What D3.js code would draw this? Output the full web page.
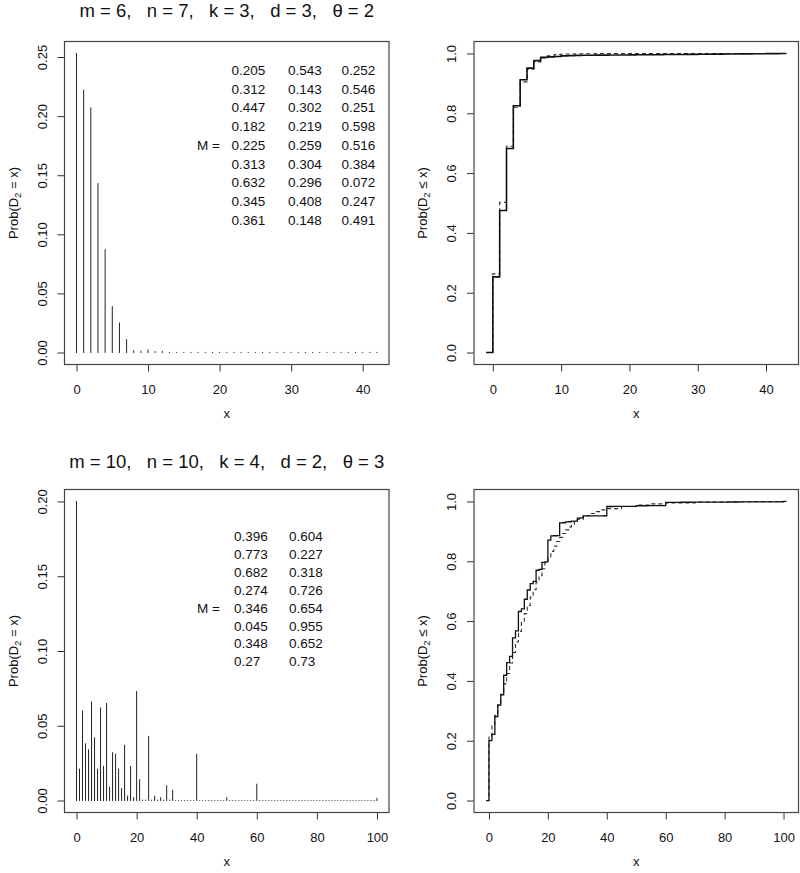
<!DOCTYPE html>
<html>
<head>
<meta charset="utf-8">
<script src="https://cdn.jsdelivr.net/npm/d3@7"></script>
<style>
  body { margin: 0; background: #fff; }
  text { font-family: "Liberation Sans", Arial, sans-serif; }
</style>
</head>
<body>
<svg id="chart" width="800" height="873"></svg>
<script>
// ---- data ----
var titleTop = "m = 6,   n = 7,   k = 3,   d = 3,   \u03b8 = 2";
var titleBottom = "m = 10,   n = 10,   k = 4,   d = 2,   \u03b8 = 3";

// Prob(D2 = x), x = 0..42
var topPmf = [0.253, 0.222, 0.207, 0.143, 0.087, 0.039, 0.025, 0.011, 0.0015, 0.0012,
  0.0022, 0.0008, 0.001, 0.0002, 0.0002, 0.0002, 0.0002, 0.0002, 0.0002, 0.0002,
  0.0002, 0.0002, 0.0002, 0.0002, 0.0002, 0.0002, 0.0002, 0.0002, 0.0002, 0.0002,
  0.0002, 0.0002, 0.0002, 0.0002, 0.0002, 0.0002, 0.0002, 0.0002, 0.0002, 0.0002,
  0.0002, 0.0002, 0.0002];

// dashed cdf (approximation), knots
var topDashX = [0, 1, 2, 3, 4, 5, 6, 7, 8, 9, 10, 12, 15];
var topDashY = [0.263, 0.502, 0.690, 0.820, 0.905, 0.947, 0.972, 0.985, 0.992, 0.996, 0.998, 0.999, 1.0];

// Prob(D2 = x), x = 0..100
var bottomPmf = [
  0.200, 0.021, 0.060, 0.038, 0.034, 0.066, 0.042, 0.021, 0.062, 0.023,
  0.065, 0.009, 0.032, 0.031, 0.021, 0.008, 0.037, 0.003, 0.023, 0.002,
  0.073, 0.014, 0.0003, 0.0003, 0.043, 0.0003, 0.003, 0.0003, 0.002, 0.0003,
  0.010, 0.0003, 0.007, 0.00005, 0.00005, 0.00005, 0.00005, 0.00005, 0.00005, 0.00005,
  0.031, 0.00005, 0.00005, 0.00005, 0.00005, 0.00005, 0.00005, 0.00005, 0.00005, 0.00005,
  0.002, 0.00005, 0.00005, 0.00005, 0.00005, 0.00005, 0.00005, 0.00005, 0.00005, 0.00005,
  0.011, 0.00005, 0.00005, 0.00005, 0.00005, 0.00005, 0.00005, 0.00005, 0.00005, 0.00005,
  0.00005, 0.00005, 0.00005, 0.00005, 0.00005, 0.00005, 0.00005, 0.00005, 0.00005, 0.00005,
  0.00005, 0.00005, 0.00005, 0.00005, 0.00005, 0.00005, 0.00005, 0.00005, 0.00005, 0.00005,
  0.00005, 0.00005, 0.00005, 0.00005, 0.00005, 0.00005, 0.00005, 0.00005, 0.00005, 0.00005,
  0.0015];

var bottomDashX = [0, 1, 2, 3, 4, 5, 6, 7, 8, 9, 10, 11, 12, 13, 14, 15, 16, 17, 18, 19,
  20, 21, 22, 23, 24, 25, 26, 27, 28, 29, 30, 32, 34, 36, 38, 40, 45, 50, 55, 60, 70, 80, 90];
var bottomDashY = [0.215, 0.25, 0.285, 0.32, 0.355, 0.39, 0.425, 0.46, 0.495, 0.53,
  0.565, 0.595, 0.625, 0.652, 0.68, 0.705, 0.73, 0.752, 0.775, 0.795,
  0.815, 0.833, 0.85, 0.866, 0.88, 0.893, 0.905, 0.915, 0.924, 0.932,
  0.94, 0.952, 0.96, 0.966, 0.972, 0.976, 0.983, 0.988, 0.992, 0.995, 0.998, 0.999, 1.0];

// matrices printed in the left panels
var topMatrix = [
  ["0.205", "0.543", "0.252"],
  ["0.312", "0.143", "0.546"],
  ["0.447", "0.302", "0.251"],
  ["0.182", "0.219", "0.598"],
  ["0.225", "0.259", "0.516"],
  ["0.313", "0.304", "0.384"],
  ["0.632", "0.296", "0.072"],
  ["0.345", "0.408", "0.247"],
  ["0.361", "0.148", "0.491"]
];
var bottomMatrix = [
  ["0.396", "0.604"],
  ["0.773", "0.227"],
  ["0.682", "0.318"],
  ["0.274", "0.726"],
  ["0.346", "0.654"],
  ["0.045", "0.955"],
  ["0.348", "0.652"],
  ["0.27", "0.73"]
];

var topPmfTicks = [0, 0.05, 0.10, 0.15, 0.20, 0.25];
var bottomPmfTicks = [0, 0.05, 0.10, 0.15, 0.20];
var cdfTicks = [0, 0.2, 0.4, 0.6, 0.8, 1.0];
var topXTicks = [0, 10, 20, 30, 40];
var bottomXTicks = [0, 20, 40, 60, 80, 100];

// ---- layout ----
var svg = d3.select("#chart");
var boxW = 324.5, boxH = 323;
var leftX = 64.5, rightX = 474;
var topY = 41.5, bottomY = 489.5;
var ink = "#222";

// R style: 4% padding on each side
function padded(lo, hi) {
  var p = (hi - lo) * 0.04;
  return [lo - p, hi + p];
}

function drawFrame(x0, y0, xs, ys, xTicks, yTicks, yFmt, relation) {
  var g = svg.append("g").attr("transform", "translate(" + x0 + "," + y0 + ")");

  var ax = g.append("g")
    .attr("transform", "translate(0," + boxH + ")")
    .call(d3.axisBottom(xs).tickValues(xTicks).tickSize(7).tickSizeOuter(0));
  ax.selectAll("text").attr("y", 29).attr("dy", 0);

  var ay = g.append("g")
    .call(d3.axisLeft(ys).tickValues(yTicks).tickFormat(d3.format(yFmt)).tickSize(7).tickSizeOuter(0));
  ay.selectAll("text")
    .attr("transform", "rotate(-90)")
    .attr("x", 0).attr("y", -18).attr("dy", 0)
    .attr("text-anchor", "middle");

  g.selectAll(".tick line").attr("stroke", "#333");
  g.selectAll(".domain").remove();
  g.selectAll(".tick text").attr("font-size", 13).attr("fill", "#111");
  ax.attr("font-family", null); ay.attr("font-family", null);

  g.append("rect")
    .attr("width", boxW).attr("height", boxH)
    .attr("fill", "none").attr("stroke", "#444").attr("stroke-width", 1.2);

  // x label
  g.append("text")
    .attr("x", boxW / 2).attr("y", boxH + 53)
    .attr("text-anchor", "middle").attr("font-size", 13).attr("fill", "#111")
    .text("x");

  // y label with subscript
  var t = g.append("text")
    .attr("transform", "translate(-47," + (boxH / 2) + ") rotate(-90)")
    .attr("text-anchor", "middle").attr("font-size", 13).attr("fill", "#111");
  t.append("tspan").text("Prob(D");
  t.append("tspan").attr("dy", 3).attr("font-size", 9.5).text("2");
  t.append("tspan").attr("dy", -3).text(" " + relation + " x)");
  return g;
}

function drawPmf(x0, y0, pmf, xMax, xTicks, yTicks, title, titleY, matrix, matrixCols, rowStart, rowStep) {
  var xs = d3.scaleLinear().domain(padded(0, xMax)).range([0, boxW]);
  var ys = d3.scaleLinear().domain(padded(0, d3.max(pmf))).range([boxH, 0]);
  var g = drawFrame(x0, y0, xs, ys, xTicks, yTicks, ".2f", "=");

  g.selectAll("line.bar")
    .data(pmf)
    .enter()
    .append("line")
    .attr("class", "bar")
    .attr("x1", function(d, i) { return xs(i); })
    .attr("x2", function(d, i) { return xs(i); })
    .attr("y1", ys(0))
    .attr("y2", function(d) { return ys(d); })
    .attr("stroke", ink)
    .attr("stroke-width", 1)
    .attr("stroke-linecap", "round");

  svg.append("text")
    .attr("x", x0 + boxW / 2).attr("y", titleY)
    .attr("text-anchor", "middle").attr("font-size", 18.5).attr("fill", "#111")
    .style("white-space", "pre")
    .text(title);

  // matrix printout
  svg.append("text")
    .attr("x", 197).attr("y", rowStart + 4 * rowStep)
    .attr("font-size", 13.5).attr("fill", "#111")
    .text("M =");
  matrix.forEach(function(row, r) {
    row.forEach(function(v, c) {
      svg.append("text")
        .attr("x", matrixCols[c]).attr("y", rowStart + r * rowStep)
        .attr("font-size", 13.5).attr("fill", "#111")
        .text(v);
    });
  });
}

function drawCdf(x0, y0, pmf, dashX, dashY, xTicks, solidWidth) {
  var xEnd = pmf.length; // step plot runs from -1 to n
  var xs = d3.scaleLinear().domain(padded(-1, xEnd)).range([0, boxW]);
  var ys = d3.scaleLinear().domain(padded(0, 1)).range([boxH, 0]);
  var g = drawFrame(x0, y0, xs, ys, xTicks, cdfTicks, ".1f", "\u2264");

  var cum = d3.cumsum(pmf);
  var solid = [[-1, 0]];
  cum.forEach(function(v, i) { solid.push([i, v]); });
  solid.push([xEnd, cum[cum.length - 1]]);

  var dashed = [[-1, 0]];
  dashX.forEach(function(v, i) { dashed.push([v, dashY[i]]); });
  dashed.push([xEnd, dashY[dashY.length - 1]]);

  var line = d3.line()
    .x(function(d) { return xs(d[0]); })
    .y(function(d) { return ys(Math.min(d[1], 1)); })
    .curve(d3.curveStepAfter);

  g.append("path")
    .attr("d", line(dashed))
    .attr("fill", "none").attr("stroke", "#333").attr("stroke-width", 1.1)
    .attr("stroke-dasharray", "4,3");

  g.append("path")
    .attr("d", line(solid))
    .attr("fill", "none").attr("stroke", "#111").attr("stroke-width", solidWidth);
}

drawPmf(leftX, topY, topPmf, 42, topXTicks, topPmfTicks, titleTop, 17, topMatrix, [231.5, 288, 341.5], 75, 18.7);
drawCdf(rightX, topY, topPmf, topDashX, topDashY, topXTicks, 1.6);

drawPmf(leftX, bottomY, bottomPmf, 100, bottomXTicks, bottomPmfTicks, titleBottom, 468, bottomMatrix, [234, 289], 541, 17.9);
drawCdf(rightX, bottomY, bottomPmf, bottomDashX, bottomDashY, bottomXTicks, 1.3);
</script>
</body>
</html>
